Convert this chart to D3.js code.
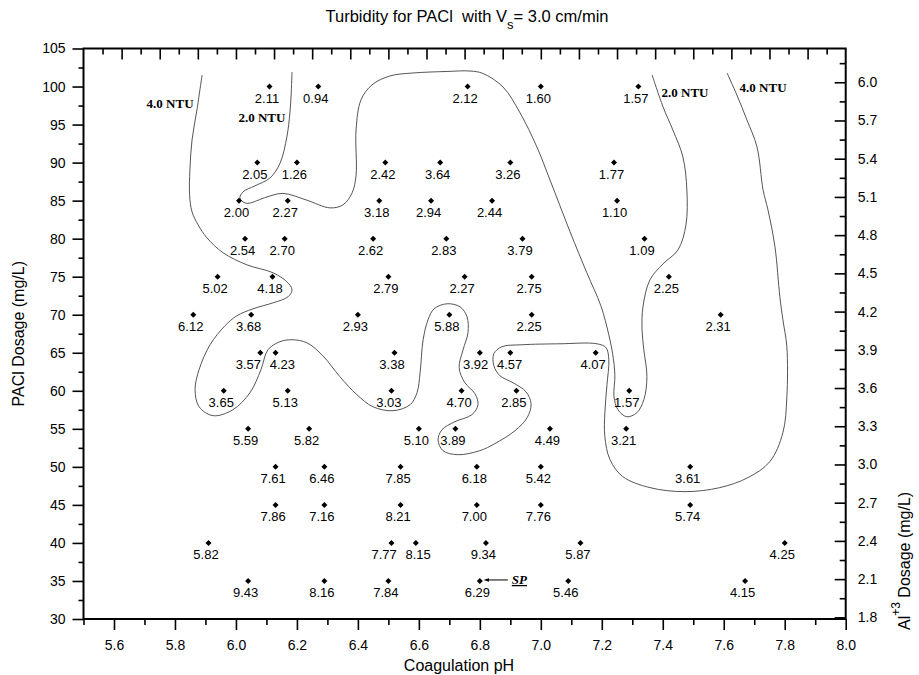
<!DOCTYPE html>
<html>
<head>
<meta charset="utf-8">
<script src="https://cdn.jsdelivr.net/npm/d3@7"></script>
<style>
  body { margin: 0; background: #fff; }
  text { font-family: "Liberation Sans", Arial, sans-serif; fill: #000; }
  .ntu { font-family: "Liberation Serif", "Times New Roman", serif; font-weight: bold; }
</style>
</head>
<body>
<svg id="chart" width="919" height="675"></svg>
<script>
// Jar-test grid: coagulation pH, PACl dose (mg/L) and settled turbidity (NTU)
const phValues = [
  6.11, 6.27, 6.76, 7.00, 7.32,
  6.07, 6.20, 6.49, 6.67, 6.90, 7.24,
  6.01, 6.17, 6.47, 6.64, 6.84, 7.25,
  6.03, 6.16, 6.45, 6.69, 6.94, 7.34,
  5.94, 6.12, 6.50, 6.75, 6.97, 7.42,
  5.86, 6.05, 6.40, 6.70, 6.97, 7.59,
  6.08, 6.13, 6.52, 6.80, 6.90, 7.18,
  5.96, 6.17, 6.51, 6.74, 6.92, 7.29,
  6.04, 6.24, 6.60, 6.72, 7.03, 7.28,
  6.13, 6.29, 6.54, 6.79, 7.00, 7.49,
  6.13, 6.29, 6.54, 6.79, 7.00, 7.49,
  5.91, 6.51, 6.59, 6.82, 7.13, 7.80,
  6.04, 6.29, 6.50, 6.80, 7.09, 7.67
];
const doseValues = [
  100, 100, 100, 100, 100,
  90, 90, 90, 90, 90, 90,
  85, 85, 85, 85, 85, 85,
  80, 80, 80, 80, 80, 80,
  75, 75, 75, 75, 75, 75,
  70, 70, 70, 70, 70, 70,
  65, 65, 65, 65, 65, 65,
  60, 60, 60, 60, 60, 60,
  55, 55, 55, 55, 55, 55,
  50, 50, 50, 50, 50, 50,
  45, 45, 45, 45, 45, 45,
  40, 40, 40, 40, 40, 40,
  35, 35, 35, 35, 35, 35
];
const turbidityValues = [
  2.11, 0.94, 2.12, 1.60, 1.57,
  2.05, 1.26, 2.42, 3.64, 3.26, 1.77,
  2.00, 2.27, 3.18, 2.94, 2.44, 1.10,
  2.54, 2.70, 2.62, 2.83, 3.79, 1.09,
  5.02, 4.18, 2.79, 2.27, 2.75, 2.25,
  6.12, 3.68, 2.93, 5.88, 2.25, 2.31,
  3.57, 4.23, 3.38, 3.92, 4.57, 4.07,
  3.65, 5.13, 3.03, 4.70, 2.85, 1.57,
  5.59, 5.82, 5.10, 3.89, 4.49, 3.21,
  7.61, 6.46, 7.85, 6.18, 5.42, 3.61,
  7.86, 7.16, 8.21, 7.00, 7.76, 5.74,
  5.82, 7.77, 8.15, 9.34, 5.87, 4.25,
  9.43, 8.16, 7.84, 6.29, 5.46, 4.15
];

// Iso-turbidity lines as [pH, PACl dose] vertices
const contour4 = [
  [5.889,101.52],[5.872,96.92],[5.856,92.98],[5.849,89.04],[5.848,85.76],[5.856,83.52],
  [5.876,81.81],[5.905,80.11],[5.958,78.14],[6.036,76.56],[6.122,75.51],[6.167,74.33],
  [6.184,73.28],[6.171,72.36],[6.122,71.57],[6.056,70.78],[6.003,69.86],[5.964,68.55],
  [5.915,66.05],[5.879,62.77],[5.866,60.14],[5.879,57.91],[5.925,56.73],[5.990,57.51],
  [6.046,59.75],[6.082,62.77],[6.105,65.39],[6.144,66.45],[6.184,66.71],[6.233,66.31],
  [6.285,64.61],[6.341,61.85],[6.397,59.48],[6.449,57.91],[6.515,57.38],[6.571,58.17],
  [6.594,59.75],[6.604,62.37],[6.614,66.71],[6.630,69.34],[6.650,70.78],[6.692,71.44],
  [6.735,71.04],[6.758,69.73],[6.761,67.63],[6.745,65.39],[6.732,63.03],[6.751,61.06],
  [6.784,59.61],[6.794,58.17],[6.774,56.86],[6.718,55.94],[6.676,54.89],[6.663,53.57],
  [6.679,52.13],[6.728,51.60],[6.800,52.13],[6.849,53.05],[6.915,54.75],[6.955,56.46],
  [6.968,58.30],[6.951,59.88],[6.909,61.06],[6.866,61.98],[6.846,63.29],[6.846,64.87],
  [6.872,65.79],[6.938,66.05],[7.063,66.18],[7.184,66.18],[7.214,65.66],[7.223,64.08],
  [7.217,60.80],[7.210,57.12],[7.210,53.97],[7.227,50.94],[7.269,48.71],[7.358,47.27],
  [7.473,46.74],[7.587,47.27],[7.679,48.58],[7.751,50.68],[7.794,54.49],[7.807,59.22],
  [7.807,65.79],[7.794,69.34],[7.784,72.36],[7.768,78.92],[7.745,83.79],[7.729,86.41],
  [7.709,92.06],[7.676,95.61],[7.643,98.89],[7.611,101.78]
];
const contour2 = [
  [6.184,101.91],[6.181,98.89],[6.177,96.53],[6.167,93.37],[6.145,89.96],[6.112,87.99],
  [6.062,86.94],[6.023,86.15],[6.013,85.36],[6.023,84.84],[6.039,84.64],[6.102,85.49],
  [6.154,85.95],[6.230,85.10],[6.308,84.05],[6.351,84.44],[6.381,86.02],[6.394,88.38],
  [6.394,94.29],[6.410,98.23],[6.446,100.21],[6.505,101.39],[6.581,101.78],[6.692,101.98],
  [6.768,102.04],[6.810,101.72],[6.876,99.94],[6.932,96.53],[6.987,92.06],[7.030,87.73],
  [7.096,80.90],[7.151,75.51],[7.197,71.17],[7.223,67.36],[7.236,64.74],[7.243,62.11],
  [7.240,59.22],[7.253,57.51],[7.282,56.59],[7.315,57.12],[7.338,58.83],[7.348,61.85],
  [7.338,65.39],[7.332,68.02],[7.335,71.04],[7.358,74.59],[7.401,76.69],[7.450,78.53],
  [7.476,81.81],[7.479,86.41],[7.466,90.75],[7.433,94.29],[7.401,97.32],[7.365,101.52]
];
const contourLabels = ["4.0 NTU", "2.0 NTU", "2.0 NTU", "4.0 NTU"];
const contourLabelPh = [5.784, 6.085, 7.473, 7.729];
const contourLabelDose = [97.12, 95.38, 98.67, 99.33];

// Axis tick labels
const xTickLabels = ["5.6","5.8","6.0","6.2","6.4","6.6","6.8","7.0","7.2","7.4","7.6","7.8","8.0"];
const yTickLabels = ["30","35","40","45","50","55","60","65","70","75","80","85","90","95","100","105"];
const alTickLabels = ["1.8","2.1","2.4","2.7","3.0","3.3","3.6","3.9","4.2","4.5","4.8","5.1","5.4","5.7","6.0"];

// Selected operating point
const spPh = 6.80, spDose = 35;

const svg = d3.select("#chart");
const L = 83.5, R = 845.7, T = 48.5, B = 619;

const x = d3.scaleLinear().domain([5.5, 8.0]).range([L, R]);
const y = d3.scaleLinear().domain([30, 105]).range([B, T]);
const yAl = d3.scaleLinear().domain([1.787, 6.265]).range([B, T]);
const xTop = d3.scaleLinear().domain([0, 20]).range([L, R]);

function styleAxis(g, fs) {
  g.select(".domain").remove();
  g.selectAll(".tick line").attr("stroke", "#000").attr("stroke-width", 1.6);
  g.selectAll(".tick text").attr("font-size", fs).attr("fill", "#222")
    .style("font-family", "'Liberation Sans', Arial, sans-serif");
}

// Bottom axis
const xMajor = xTickLabels.map(Number);
const xMinor = d3.range(55, 80, 2).map(v => v / 10);
svg.append("g").attr("transform", `translate(0,${B})`)
  .call(d3.axisBottom(x).tickValues(xMinor).tickSize(6).tickFormat(""))
  .call(g => styleAxis(g, 14));
svg.append("g").attr("transform", `translate(0,${B})`)
  .call(d3.axisBottom(x).tickValues(xMajor).tickSize(11).tickPadding(10)
    .tickFormat((d, i) => xTickLabels[i]))
  .call(g => styleAxis(g, 14));

// Left axis
const yMajor = yTickLabels.map(Number);
const yMinor = d3.range(30, 105, 5).map(v => v + 2.5);
svg.append("g").attr("transform", `translate(${L},0)`)
  .call(d3.axisLeft(y).tickValues(yMinor).tickSize(5).tickFormat(""))
  .call(g => styleAxis(g, 14));
svg.append("g").attr("transform", `translate(${L},0)`)
  .call(d3.axisLeft(y).tickValues(yMajor).tickSize(11).tickPadding(7)
    .tickFormat((d, i) => yTickLabels[i]))
  .call(g => styleAxis(g, 14));

// Right axis: equivalent Al+3 dose
const alMajor = alTickLabels.map(Number);
const alMinor = alMajor.map(v => v + 0.15).filter(v => v < 6.26);
svg.append("g").attr("transform", `translate(${R},0)`)
  .call(d3.axisRight(yAl).tickValues(alMinor).tickSize(-6).tickFormat(""))
  .call(g => styleAxis(g, 14));
svg.append("g").attr("transform", `translate(${R},0)`)
  .call(d3.axisRight(yAl).tickValues(alMajor).tickSize(-11).tickPadding(12)
    .tickFormat((d, i) => alTickLabels[i]))
  .call(g => styleAxis(g, 14));

// Top axis: unlabeled inward ticks
svg.append("g").attr("transform", `translate(0,${T})`)
  .call(d3.axisTop(xTop).tickValues(d3.range(0.5, 20, 1)).tickSize(-6).tickFormat(""))
  .call(g => styleAxis(g, 14));
svg.append("g").attr("transform", `translate(0,${T})`)
  .call(d3.axisTop(xTop).tickValues(d3.range(1, 20, 1)).tickSize(-11).tickFormat(""))
  .call(g => styleAxis(g, 14));

// Plot frame
svg.append("rect")
  .attr("x", L).attr("y", T).attr("width", R - L).attr("height", B - T)
  .attr("fill", "none").attr("stroke", "#000").attr("stroke-width", 2);

// Contour lines
const line = d3.line().x(d => x(d[0])).y(d => y(d[1])).curve(d3.curveCatmullRom.alpha(0.5));
svg.append("g").selectAll("path")
  .data([contour4, contour2])
  .join("path")
  .attr("d", line)
  .attr("fill", "none")
  .attr("stroke", "#555")
  .attr("stroke-width", 1);

svg.append("g").selectAll("text")
  .data(contourLabels)
  .join("text")
  .attr("class", "ntu")
  .attr("x", (d, i) => x(contourLabelPh[i]))
  .attr("y", (d, i) => y(contourLabelDose[i]))
  .attr("text-anchor", "middle")
  .attr("font-size", 13)
  .text(d => d);

// Data points
const diamond = {
  draw(ctx, size) {
    const r = Math.sqrt(size / 2);
    ctx.moveTo(0, -r); ctx.lineTo(r, 0); ctx.lineTo(0, r); ctx.lineTo(-r, 0); ctx.closePath();
  }
};
const idx = d3.range(phValues.length);
const fmt = d3.format(".2f");

// Value labels sit under each marker; neighbours on the same dose row that
// would collide are spread apart symmetrically around their midpoint.
const labelX = idx.map(i => x(phValues[i]) - 2.5);
const minGap = 34;
d3.groups(idx, i => doseValues[i]).forEach(([, row]) => {
  row.sort((a, b) => labelX[a] - labelX[b]);
  for (let k = 1; k < row.length; k++) {
    const a = row[k - 1], b = row[k];
    const gap = labelX[b] - labelX[a];
    if (gap < minGap) {
      const mid = (labelX[a] + labelX[b]) / 2;
      labelX[a] = mid - minGap / 2;
      labelX[b] = mid + minGap / 2;
    }
  }
});

const pts = svg.append("g");
pts.selectAll("path")
  .data(idx)
  .join("path")
  .attr("transform", i => `translate(${x(phValues[i])},${y(doseValues[i])})`)
  .attr("d", d3.symbol().type(diamond).size(18))
  .attr("fill", "#000");
pts.selectAll("text")
  .data(idx)
  .join("text")
  .attr("x", i => labelX[i])
  .attr("y", i => y(doseValues[i]) + 16)
  .attr("text-anchor", "middle")
  .attr("font-size", 13)
  .attr("fill", "#222")
  .text(i => fmt(turbidityValues[i]));

// SP marker arrow
const spX = x(spPh), spY = y(spDose);
svg.append("defs").append("marker")
  .attr("id", "arrowhead").attr("viewBox", "0 0 10 10")
  .attr("refX", 1).attr("refY", 5)
  .attr("markerWidth", 6).attr("markerHeight", 6)
  .attr("orient", "auto-start-reverse")
  .append("path").attr("d", "M0,2 L10,5 L0,8 Z").attr("fill", "#000");
svg.append("line")
  .attr("x1", spX + 28).attr("y1", spY - 1)
  .attr("x2", spX + 9).attr("y2", spY - 1)
  .attr("stroke", "#000").attr("stroke-width", 1)
  .attr("marker-end", "url(#arrowhead)");
svg.append("text")
  .attr("x", spX + 32).attr("y", spY + 3)
  .attr("font-size", 13)
  .style("font-family", "'Liberation Serif', 'Times New Roman', serif")
  .style("font-weight", "bold").style("font-style", "italic")
  .style("text-decoration", "underline")
  .text("SP");

// Titles
const title = svg.append("text")
  .attr("x", 467).attr("y", 22)
  .attr("text-anchor", "middle")
  .attr("font-size", 16.5)
  .style("white-space", "pre");
title.append("tspan").text("Turbidity for PACl  with V");
title.append("tspan").attr("dy", 7).attr("font-size", 13).text("s");
title.append("tspan").attr("dy", -7).text("= 3.0 cm/min");

svg.append("text")
  .attr("x", 459).attr("y", 671)
  .attr("text-anchor", "middle")
  .attr("font-size", 16)
  .text("Coagulation pH");

svg.append("text")
  .attr("transform", `translate(24,${(T + B) / 2}) rotate(-90)`)
  .attr("text-anchor", "middle")
  .attr("font-size", 16)
  .text("PACl Dosage (mg/L)");

const rt = svg.append("text")
  .attr("transform", "translate(910,630) rotate(-90)")
  .attr("font-size", 16)
  .style("white-space", "pre");
rt.append("tspan").text("Al");
rt.append("tspan").attr("dy", -10).attr("font-size", 12).text("+3");
rt.append("tspan").attr("dy", 10).text(" Dosage (mg/L)");
</script>
</body>
</html>
